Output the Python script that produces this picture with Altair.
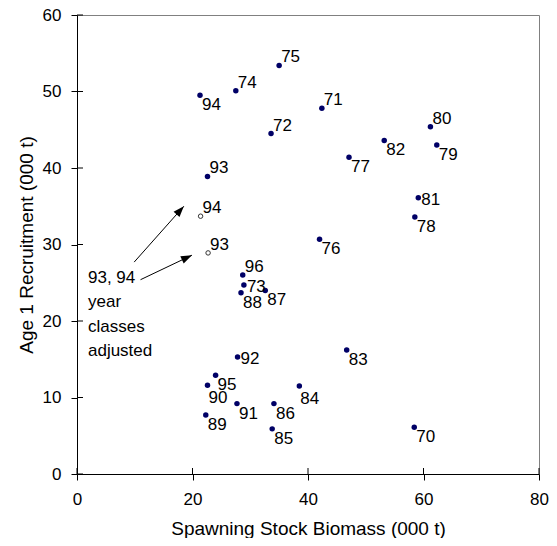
import math
import altair as alt
import pandas as pd

# ---- data ----
years = ["75", "74", "94", "71", "72", "77", "93", "80", "82", "79", "81", "78",
         "76", "96", "73", "88", "87", "83", "92", "95", "90", "84", "91", "86",
         "89", "85", "70"]
ssb = [35.0, 27.5, 21.3, 42.4, 33.6, 47.1, 22.6, 61.2, 53.2, 62.3, 59.1, 58.5,
       42.0, 28.7, 28.9, 28.4, 32.6, 46.7, 27.8, 24.0, 22.6, 38.5, 27.7, 34.1,
       22.3, 33.8, 58.4]
recruit = [53.4, 50.1, 49.5, 47.8, 44.5, 41.4, 38.9, 45.4, 43.6, 43.0, 36.1, 33.6,
           30.7, 26.0, 24.7, 23.7, 24.0, 16.2, 15.3, 12.9, 11.6, 11.5, 9.2, 9.2,
           7.7, 5.9, 6.1]
# label placement relative to the dot
place = ["ur", "ur", "lr", "ur", "ur", "lr", "ur", "ur", "lr", "lr", "r", "lr",
         "lr", "ur", "r", "lr", "lr", "lr", "r", "lr", "b", "b", "lr", "lr",
         "lr", "lr", "lr"]

adj_years = ["94", "93"]
adj_ssb = [21.4, 22.7]
adj_recruit = [33.7, 28.9]

arrow_x = [9.9, 11.0]
arrow_y = [27.7, 25.4]
arrow_x2 = [18.5, 19.9]
arrow_y2 = [35.0, 28.6]

note_text = "93, 94\nyear\nclasses\nadjusted"
note_x = [1.9]
note_y = [24.95]

x_ticks = [0, 20, 40, 60, 80]
y_ticks = [0, 10, 20, 30, 40, 50, 60]

# ---- layout ----
W, H = 462, 459
FONT = "Liberation Sans"
NAVY = "#000066"

pts = pd.DataFrame({"x": ssb, "y": recruit, "label": years, "place": place})
adj = pd.DataFrame({"x": adj_ssb, "y": adj_recruit, "label": adj_years, "place": ["ur", "ur"]})
sx, sy = W / 80.0, H / 60.0
angles = [math.degrees(math.atan2((b - a) * sx, (d - c) * sy))
          for a, b, c, d in zip(arrow_x, arrow_x2, arrow_y, arrow_y2)]
arrows = pd.DataFrame({"x": arrow_x, "y": arrow_y, "x2": arrow_x2, "y2": arrow_y2,
                       "angle": angles})
heads = pd.DataFrame({"x": arrow_x2, "y": arrow_y2, "angle": angles})
note = pd.DataFrame({"x": note_x, "y": note_y, "t": [note_text]})
yt = pd.DataFrame({"y": y_ticks})
xt = pd.DataFrame({"x": x_ticks})

xscale = alt.Scale(domain=[0, 80], nice=False, zero=False)
yscale = alt.Scale(domain=[0, 60], nice=False, zero=False)
xaxis = alt.Axis(values=x_ticks, title="Spawning Stock Biomass (000 t)",
                 titleX=W / 2, titleY=60, titleBaseline="alphabetic", labelFlush=False)
yaxis = alt.Axis(values=y_ticks, title="Age 1 Recruitment (000 t)",
                 titleX=-51, titleY=H / 2, titleBaseline="middle", labelFlush=False)
X = alt.X("x:Q", scale=xscale, axis=xaxis)
Y = alt.Y("y:Q", scale=yscale, axis=yaxis)

dots = alt.Chart(pts).mark_point(filled=True, shape="circle", size=30, color=NAVY,
                                 opacity=1).encode(x=X, y=Y)
open_dots = alt.Chart(adj).mark_point(filled=False, shape="circle", size=20,
                                      stroke="#333333", fill="white", fillOpacity=1,
                                      strokeWidth=1, opacity=1).encode(x=X, y=Y)

offsets = {"ur": (2, -3), "lr": (2, 15), "r": (3, 7), "b": (1, 18)}
label_layers = []
for key, (dx, dy) in offsets.items():
    for df in (pts, adj):
        label_layers.append(
            alt.Chart(df).transform_filter(alt.datum.place == key)
            .mark_text(align="left", baseline="alphabetic", dx=dx, dy=dy,
                       font=FONT, fontSize=17, color="black")
            .encode(x=X, y=Y, text="label:N")
        )

arrow_lines = alt.Chart(arrows).mark_rule(color="black", strokeWidth=1).encode(
    x=X, y=Y, x2="x2:Q", y2="y2:Q")
arrow_heads = alt.Chart(heads).mark_point(
    shape="M0,0L-0.36,1L0.36,1Z", size=484, filled=True, color="black", opacity=1
).encode(x=X, y=Y, angle=alt.Angle("angle:Q", scale=None))

note_mark = alt.Chart(note).mark_text(
    align="left", baseline="alphabetic", lineBreak="\n", lineHeight=24.3,
    font=FONT, fontSize=17, color="black").encode(x=X, y=Y, text="t:N")

y_in = alt.Chart(yt).mark_rule(color="black", strokeWidth=1).encode(
    y=Y, x=alt.value(0), x2=alt.value(6))
x_in = alt.Chart(xt).mark_rule(color="black", strokeWidth=1).encode(
    x=X, y=alt.value(H - 6), y2=alt.value(H))

chart = alt.layer(
    y_in, x_in, arrow_lines, arrow_heads, note_mark, open_dots, dots, *label_layers
).properties(
    width=W, height=H,
    autosize=alt.AutoSizeParams(type="none"),
    padding={"left": 69, "top": 7, "right": 10, "bottom": 64},
).configure_view(
    stroke="#808080", strokeWidth=1
).configure_axis(
    grid=False, domainColor="black", domainWidth=1, tickColor="black", tickSize=6,
    tickWidth=1, labelColor="black", labelFont=FONT, labelFontSize=17,
    labelPadding=9, titleColor="black", titleFont=FONT, titleFontSize=19,
    titleFontWeight="normal", labelFlush=False
).configure_axisY(labelPadding=10).configure_axisX(labelPadding=11)

chart.save("out.html", embed_options={"renderer": "svg", "actions": False})
